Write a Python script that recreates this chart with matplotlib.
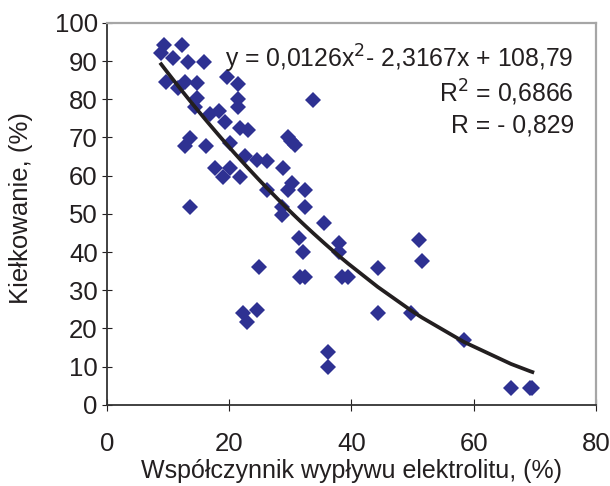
import numpy as np
import matplotlib
matplotlib.use("Agg")
import matplotlib.pyplot as plt

plt.rcParams['font.family'] = ['Liberation Sans', 'DejaVu Sans']

# współczynnik wypływu elektrolitu (%) vs kiełkowanie (%)
wyplyw = [9.3, 8.9, 10.8, 12.3, 13.3, 15.9,
          9.7, 11.6, 12.8, 14.8, 14.8, 14.4,
          19.6, 21.4, 21.4, 21.4, 16.9, 18.4, 19.3, 21.8, 23.1,
          13.6, 12.8, 16.2, 20.2, 22.6, 24.6, 26.2,
          17.7, 20.2, 19.0, 21.8, 28.9, 30.3, 29.7, 32.5, 26.2,
          29.6, 30.2, 30.8, 33.8,
          32.5, 28.7, 13.6, 28.7, 35.6, 31.5, 32.1, 37.9, 38.0,
          31.6, 32.5, 38.5, 39.5, 44.3, 51.1, 51.6,
          44.3, 49.7, 58.4, 36.2, 36.2, 66.1, 69.2, 69.6,
          22.3, 24.6, 23.0, 24.9]
kielkowanie = [94.2, 92.1, 90.8, 94.2, 89.8, 89.8,
               84.5, 83.0, 84.5, 84.3, 80.4, 78.0,
               85.8, 84.0, 80.0, 78.0, 76.2, 77.0, 74.0, 72.5, 72.0,
               69.9, 67.8, 67.8, 68.6, 65.2, 64.1, 63.9,
               62.0, 62.0, 59.7, 59.7, 62.0, 58.1, 56.3, 56.3, 56.3,
               70.0, 69.0, 68.0, 79.8,
               51.8, 51.8, 51.8, 49.7, 47.6, 43.7, 40.1, 42.4, 40.1,
               33.5, 33.5, 33.5, 33.5, 35.9, 43.2, 37.7,
               24.1, 24.1, 17.0, 13.9, 9.9, 4.5, 4.5, 4.5,
               24.1, 24.9, 21.7, 36.1]

# trend line coefficients as printed on the chart
trend_coef = [0.0126, -2.3167, 108.79]

x_ticks = [0, 20, 40, 60, 80]
y_ticks = list(range(0, 101, 10))

fs = 18.5
txt_col = '#231f20'

fig = plt.figure(figsize=(6.1, 4.86), dpi=100)
ax = fig.add_axes([0.175, 0.167, 0.802, 0.786])

ax.plot(wyplyw, kielkowanie, linestyle='none', marker='D', markersize=8,
        color='#2E3192', markeredgewidth=0, zorder=2)

xs = np.sort(np.array(wyplyw))
ax.plot(xs, np.polyval(trend_coef, xs), color=txt_col, lw=2.7, zorder=3)

ax.set_xlim(0, 80)
ax.set_ylim(0, 100)
ax.set_xticks(x_ticks)
ax.set_yticks(y_ticks)
ax.tick_params(axis='both', direction='inout', labelsize=fs, colors=txt_col)
ax.tick_params(axis='x', length=9, pad=15)
ax.tick_params(axis='y', length=7, pad=3)

for s in ['left', 'bottom']:
    ax.spines[s].set_color('#333333')
    ax.spines[s].set_linewidth(1.3)
for s in ['top', 'right']:
    ax.spines[s].set_color('#a6a6a6')
    ax.spines[s].set_linewidth(1.6)

ax.set_xlabel('Współczynnik wypływu elektrolitu, (%)', fontsize=18, color=txt_col)
ax.xaxis.set_label_coords(0.5, -0.143)
ax.set_ylabel('Kiełkowanie, (%)', fontsize=fs, color=txt_col)
ax.yaxis.set_label_coords(-0.15, 0.515)

# equation and correlation text
fs_eq = 17.8
ax.text(0.955, 0.905, 'y = 0,0126x$^{2}$- 2,3167x + 108,79', transform=ax.transAxes,
        ha='right', va='center', fontsize=fs_eq, color=txt_col)
ax.text(0.955, 0.817, 'R$^{2}$ = 0,6866', transform=ax.transAxes,
        ha='right', va='center', fontsize=fs_eq, color=txt_col)
ax.text(0.955, 0.73, 'R = - 0,829', transform=ax.transAxes,
        ha='right', va='center', fontsize=fs_eq, color=txt_col)

fig.savefig('out.png', dpi=100)
